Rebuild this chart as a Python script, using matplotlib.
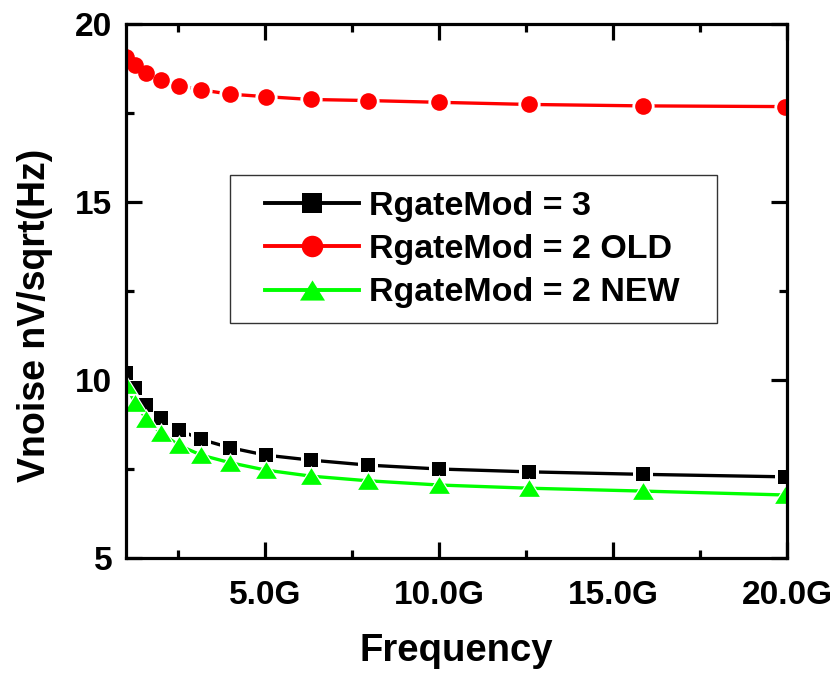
import matplotlib
matplotlib.use("Agg")
import matplotlib.pyplot as plt
from matplotlib.lines import Line2D
from matplotlib.patches import Rectangle
from matplotlib.ticker import FixedLocator, FixedFormatter

plt.rcParams['font.family'] = ['Liberation Sans', 'DejaVu Sans']
plt.rcParams['font.weight'] = 'bold'

freq_ghz = [1.0, 1.259, 1.585, 1.995, 2.512, 3.162, 3.981, 5.012, 6.310, 7.943,
            10.0, 12.59, 15.85, 19.95]
rgate3 = [10.19, 9.77, 9.30, 8.92, 8.60, 8.33, 8.10, 7.89, 7.75, 7.61,
          7.50, 7.42, 7.35, 7.28]
rgate2_old = [19.08, 18.85, 18.62, 18.43, 18.27, 18.15, 18.03, 17.96, 17.88, 17.85,
              17.80, 17.74, 17.70, 17.68]
rgate2_new = [9.86, 9.36, 8.90, 8.52, 8.17, 7.89, 7.68, 7.47, 7.30, 7.17,
              7.05, 6.96, 6.88, 6.77]
labels = ["RgateMod = 3", "RgateMod = 2 OLD", "RgateMod = 2 NEW"]
x_ticks = [5, 10, 15, 20]
x_ticklabels = ["5.0G", "10.0G", "15.0G", "20.0G"]
x_minor = [2.5, 7.5, 12.5, 17.5]
y_ticks = [5, 10, 15, 20]
y_minor = [7.5, 12.5, 17.5]

tri = [(-1.24, -1.0), (1.24, -1.0), (0.0, 1.0), (-1.24, -1.0)]

fig = plt.figure(figsize=(8.33, 6.76), dpi=100)
ax = fig.add_axes([126/833, 1-558/676, (787-126)/833, (558-24)/676])

series = [
    (rgate3, 'black', 's', 10.6, 14.4),
    (rgate2_old, '#ff0000', 'o', 12.0, 15.5),
    (rgate2_new, '#00ff00', tri, 14.9, 18.0),
]
handles = []
for i, (vals, col, mk, ms, lms) in enumerate(series):
    z = 2 + i * 0.3
    ax.plot(freq_ghz, vals, color=col, lw=2.4, zorder=z, solid_capstyle='butt')
    ax.plot(freq_ghz, vals, ls='none', marker=mk, ms=ms + 4, mfc='white',
            mec='white', mew=0, zorder=z + 0.1)
    ax.plot(freq_ghz, vals, ls='none', marker=mk, ms=ms, mfc=col, mec=col,
            mew=0, zorder=z + 0.2)
    handles.append(Line2D([], [], color=col, lw=2.8, marker=mk, ms=lms,
                          mfc=col, mec=col, mew=0))

ax.set_xlim(1, 20)
ax.set_ylim(5, 20)
ax.xaxis.set_major_locator(FixedLocator(x_ticks))
ax.xaxis.set_major_formatter(FixedFormatter(x_ticklabels))
ax.xaxis.set_minor_locator(FixedLocator(x_minor))
ax.yaxis.set_major_locator(FixedLocator(y_ticks))
ax.yaxis.set_minor_locator(FixedLocator(y_minor))

for sp in ax.spines.values():
    sp.set_linewidth(2.3)
    sp.set_zorder(5)
ax.tick_params(which='both', direction='in', top=True, right=True, width=2.3)
ax.tick_params(which='major', length=11.5)
ax.tick_params(which='minor', length=6)
ax.tick_params(axis='x', which='major', labelsize=24, pad=16)
ax.tick_params(axis='y', which='major', labelsize=24, pad=10)
for lab in ax.get_xticklabels() + ax.get_yticklabels():
    lab.set_fontweight('bold')

ax.set_xlabel("Frequency", fontsize=27.5, fontweight='bold', labelpad=16)
ax.set_ylabel("Vnoise nV/sqrt(Hz)", fontsize=27, fontweight='bold',
              labelpad=16, y=0.455)

# legend frame
x0, x1 = (230-126)/661, (717-126)/661
y0, y1 = (558-323)/534, (558-175)/534
ax.add_patch(Rectangle((x0, y0), x1 - x0, y1 - y0, transform=ax.transAxes,
                       facecolor='white', edgecolor='#333333', lw=1.0, zorder=6))

leg = ax.legend(handles, labels, loc='upper left',
                bbox_to_anchor=((265-126)/661, (558-191)/534),
                fontsize=24.5, frameon=False,
                handlelength=2.75, handletextpad=0.3, labelspacing=0.36,
                borderpad=0, borderaxespad=0)
leg.set_zorder(7)
for t in leg.get_texts():
    t.set_fontweight('bold')

fig.savefig("out.png", dpi=100)
